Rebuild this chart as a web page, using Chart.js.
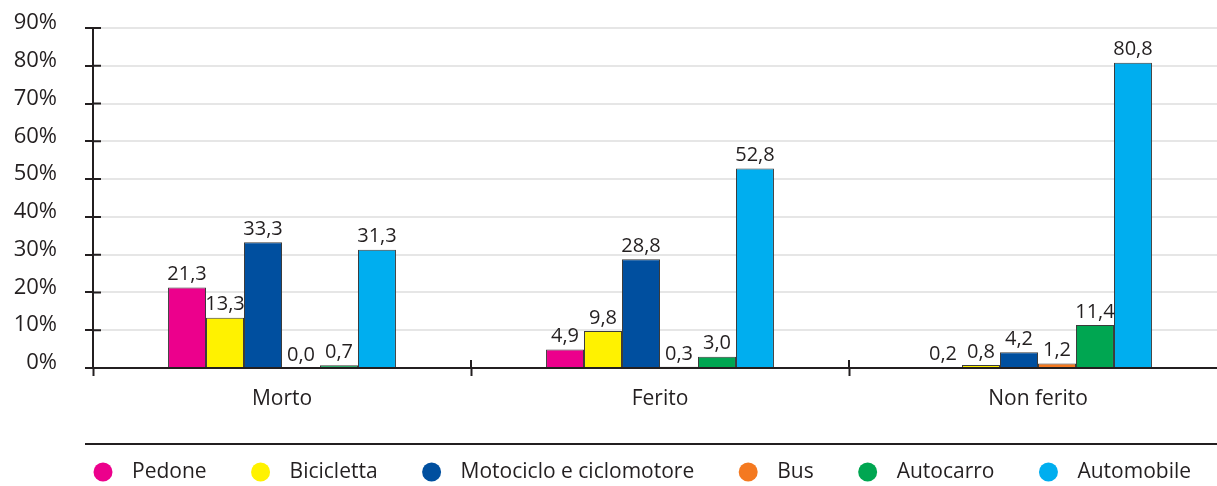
<!DOCTYPE html>
<html lang="it">
<head>
<meta charset="utf-8">
<title>Esito per tipo di utente</title>
<script src="https://cdn.jsdelivr.net/npm/chart.js@4.4.1/dist/chart.umd.min.js"></script>
<style>
  html, body { margin: 0; padding: 0; background: #fff; overflow: hidden; }
  #wrap { width: 1217px; height: 486px; overflow: hidden; }
</style>
</head>
<body>
<div id="wrap"><canvas id="chart" width="1229" height="486"></canvas></div>
<script>
  const categories = ['Morto', 'Ferito', 'Non ferito'];
  const seriesNames = ['Pedone', 'Bicicletta', 'Motociclo e ciclomotore', 'Bus', 'Autocarro', 'Automobile'];
  const seriesColors = ['#ec008c', '#fff200', '#004f9f', '#f47920', '#00a651', '#00aeef'];

  // percentuali per categoria
  const pedone     = [21.3, 4.9, 0.2];
  const bicicletta = [13.3, 9.8, 0.8];
  const motociclo  = [33.3, 28.8, 4.2];
  const bus        = [0.0, 0.3, 1.2];
  const autocarro  = [0.7, 3.0, 11.4];
  const automobile = [31.3, 52.8, 80.8];

  const yTicks = [0, 10, 20, 30, 40, 50, 60, 70, 80, 90];

  const INK = '#231f20';
  const FONT = "'Open Sans', 'Noto Sans', sans-serif";

  const values = [pedone, bicicletta, motociclo, bus, autocarro, automobile];

  // value labels above the bars, italian decimal comma
  const barLabels = {
    id: 'barLabels',
    afterDatasetsDraw(chart) {
      const ctx = chart.ctx;
      ctx.save();
      ctx.font = '20px ' + FONT;
      ctx.fillStyle = INK;
      ctx.textAlign = 'center';
      ctx.textBaseline = 'bottom';
      chart.data.datasets.forEach((ds, i) => {
        chart.getDatasetMeta(i).data.forEach((bar, j) => {
          const txt = ds.data[j].toFixed(1).replace('.', ',');
          ctx.fillText(txt, bar.x, bar.y - 3);
        });
      });
      ctx.restore();
    }
  };

  // inner halves of the axis ticks, separator rule and legend
  const decorations = {
    id: 'decorations',
    afterDraw(chart) {
      const ctx = chart.ctx;
      const area = chart.chartArea;
      const x = chart.scales.x, y = chart.scales.y;
      ctx.save();
      ctx.strokeStyle = INK;
      ctx.lineWidth = 2;
      ctx.beginPath();
      y.ticks.forEach((t, i) => {
        const py = y.getPixelForTick(i);
        ctx.moveTo(area.left, py);
        ctx.lineTo(area.left + 8, py);
      });
      for (let i = 1; i < categories.length; i++) {
        const px = (x.getPixelForTick(i - 1) + x.getPixelForTick(i)) / 2;
        ctx.moveTo(px, area.bottom);
        ctx.lineTo(px, area.bottom - 8);
      }
      ctx.stroke();

      // rule above the legend
      ctx.beginPath();
      ctx.moveTo(85, 444);
      ctx.lineTo(chart.width, 444);
      ctx.stroke();

      // legend
      ctx.font = '21px ' + FONT;
      ctx.textBaseline = 'middle';
      ctx.textAlign = 'left';
      let cx = 103;
      const cy = 472;
      chart.data.datasets.forEach(ds => {
        ctx.fillStyle = ds.backgroundColor;
        ctx.beginPath();
        ctx.arc(cx, cy, 9.5, 0, Math.PI * 2);
        ctx.fill();
        ctx.fillStyle = INK;
        ctx.fillText(ds.label, cx + 29, cy);
        cx = cx + 29 + ctx.measureText(ds.label).width + 54;
      });
      ctx.restore();
    }
  };

  new Chart(document.getElementById('chart'), {
    type: 'bar',
    data: {
      labels: categories,
      datasets: seriesNames.map((name, i) => ({
        label: name,
        data: values[i],
        backgroundColor: seriesColors[i],
        borderColor: '#3b3b3b',
        borderWidth: 1,
        barPercentage: 1,
        categoryPercentage: 0.603
      }))
    },
    options: {
      responsive: false,
      animation: false,
      layout: { padding: { top: 28, right: 2, bottom: 78, left: 0 } },
      plugins: {
        legend: { display: false },
        tooltip: { enabled: false }
      },
      scales: {
        x: {
          offset: true,
          grid: {
            offset: true,
            drawOnChartArea: false,
            tickLength: 8,
            tickColor: INK,
            tickWidth: 2
          },
          border: { color: INK, width: 2 },
          ticks: { color: INK, font: { family: FONT, size: 21 }, padding: 10 },
          afterFit(scale) {
            scale.height = 40;
            scale.paddingLeft = 0;
            scale.paddingRight = 0;
          }
        },
        y: {
          min: 0,
          max: 90,
          afterBuildTicks(scale) { scale.ticks = yTicks.map(v => ({ value: v })); },
          grid: {
            color: c => (c.tick && c.tick.value === 0) ? 'rgba(0,0,0,0)' : '#e6e6e6',
            lineWidth: 2,
            tickLength: 8,
            tickColor: INK,
            tickWidth: 2
          },
          border: { color: INK, width: 2 },
          ticks: {
            color: INK,
            font: { family: FONT, size: 22 },
            padding: 28,
            labelOffset: -5,
            callback: v => v + '%'
          },
          afterFit(scale) {
            scale.width = 93;
            scale.paddingTop = 0;
            scale.paddingBottom = 0;
          }
        }
      }
    },
    plugins: [barLabels, decorations]
  });
</script>
</body>
</html>
